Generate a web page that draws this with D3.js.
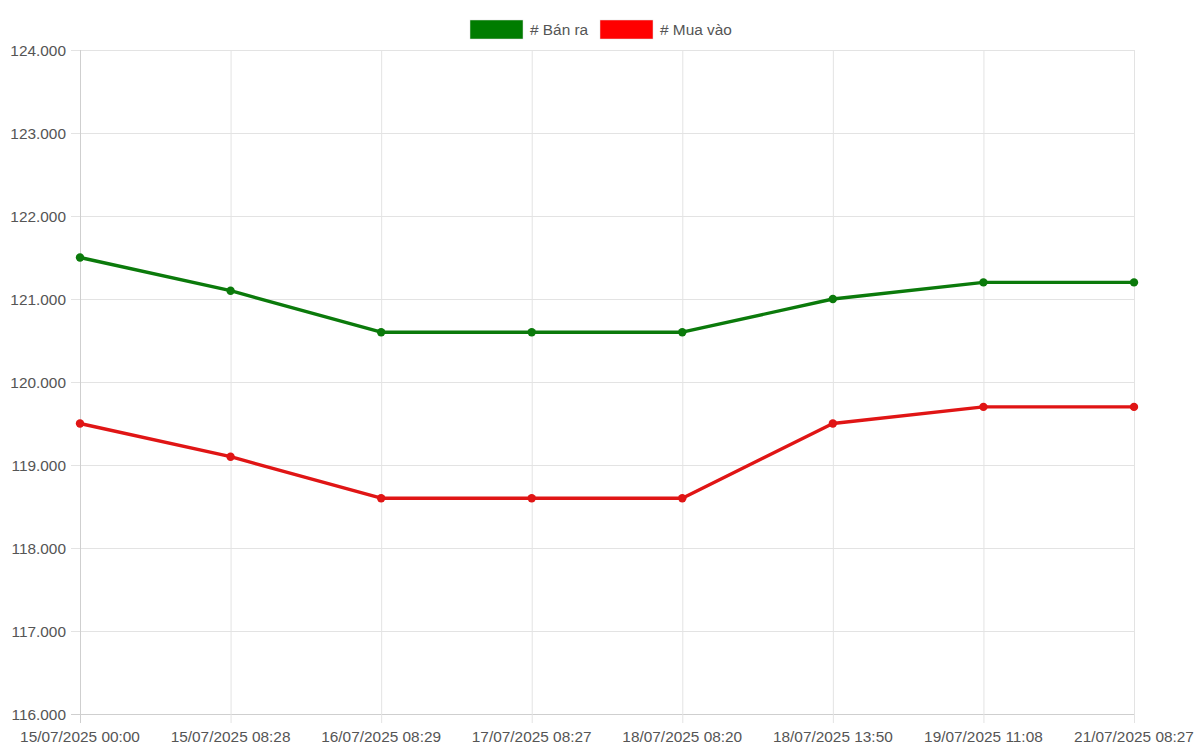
<!DOCTYPE html>
<html>
<head>
<meta charset="utf-8">
<script src="https://cdn.jsdelivr.net/npm/d3@7"></script>
<style>
  html, body { margin: 0; padding: 0; background: #fff; }
  svg { display: block; font-family: Arial, "Liberation Sans", sans-serif; }
</style>
</head>
<body>
<svg id="chart" width="1200" height="756"></svg>
<script>
const categories = ["15/07/2025 00:00", "15/07/2025 08:28", "16/07/2025 08:29", "17/07/2025 08:27", "18/07/2025 08:20", "18/07/2025 13:50", "19/07/2025 11:08", "21/07/2025 08:27"];
const banRa = [121.5, 121.1, 120.6, 120.6, 120.6, 121.0, 121.2, 121.2];
const muaVao = [119.5, 119.1, 118.6, 118.6, 118.6, 119.5, 119.7, 119.7];
const yTicks = [116, 117, 118, 119, 120, 121, 122, 123, 124];
const seriesNames = ["# Bán ra", "# Mua vào"];
const seriesColors = ["#0b7a0b", "#e01515"];
const legendColors = ["#007c00", "#ff0000"];

const svg = d3.select("#chart");
const m = { left: 80, right: 1134, top: 50, bottom: 714 };

const x = d3.scalePoint().domain(categories).range([m.left, m.right]);
const y = d3.scaleLinear().domain([116, 124]).range([m.bottom, m.top]);

// grid
const grid = svg.append("g");
grid.selectAll("line.h").data(yTicks).enter().append("line")
  .attr("x1", m.left - 9).attr("x2", m.right)
  .attr("y1", d => y(d) + 0.5).attr("y2", d => y(d) + 0.5)
  .attr("stroke", d => d === 116 ? "#cfcfcf" : "#e3e3e3").attr("stroke-width", 1);
grid.selectAll("line.v").data(categories).enter().append("line")
  .attr("x1", d => x(d) + 0.5).attr("x2", d => x(d) + 0.5)
  .attr("y1", m.top).attr("y2", m.bottom + 9)
  .attr("stroke", (d, i) => i === 0 ? "#cfcfcf" : "#e3e3e3").attr("stroke-width", 1);

// y labels
svg.append("g").selectAll("text").data(yTicks).enter().append("text")
  .attr("x", m.left - 14).attr("y", d => y(d) + 5.5)
  .attr("text-anchor", "end").attr("font-size", 15.4).attr("fill", "#555")
  .text(d => d3.format(".3f")(d));

// x labels
svg.append("g").selectAll("text").data(categories).enter().append("text")
  .attr("x", d => x(d)).attr("y", m.bottom + 28)
  .attr("text-anchor", "middle").attr("font-size", 15.4).attr("fill", "#555")
  .text(d => d);

// lines
const data = [banRa, muaVao];
const line = d3.line().x((d, i) => x(categories[i])).y(d => y(d));
data.forEach((s, k) => {
  svg.append("path").datum(s).attr("d", line)
    .attr("fill", "none").attr("stroke", seriesColors[k]).attr("stroke-width", 3.4)
    .attr("stroke-linejoin", "round");
  svg.append("g").selectAll("circle").data(s).enter().append("circle")
    .attr("cx", (d, i) => x(categories[i])).attr("cy", d => y(d)).attr("r", 4.2)
    .attr("fill", seriesColors[k]);
});

// legend
const legend = [
  { x: 470, tx: 530 },
  { x: 600, tx: 660 }
];
legend.forEach((l, k) => {
  svg.append("rect").attr("x", l.x).attr("y", 20).attr("width", 53).attr("height", 19)
    .attr("fill", legendColors[k]).attr("stroke", "#ddd").attr("stroke-width", 0.5);
  svg.append("text").attr("x", l.tx).attr("y", 34.5).attr("font-size", 15.4).attr("fill", "#555")
    .text(seriesNames[k]);
});
</script>
</body>
</html>
